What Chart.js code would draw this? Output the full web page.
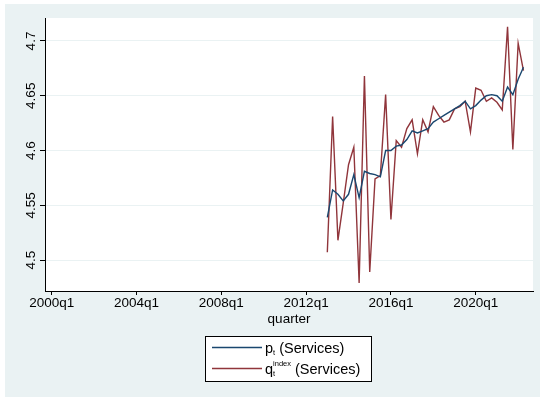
<!DOCTYPE html>
<html>
<head>
<meta charset="utf-8">
<title>Services</title>
<script src="https://cdn.jsdelivr.net/npm/chart.js@4/dist/chart.umd.min.js"></script>
<style>
  html, body { margin: 0; padding: 0; background: #fff; }
  #wrap { width: 540px; height: 400px; }
</style>
</head>
<body>
<div id="wrap"><canvas id="chart" width="540" height="400"></canvas></div>
<script>
// quarterly series, 2013q1 - 2022q2
const quarters = [
    '2013q1', '2013q2', '2013q3', '2013q4', '2014q1', '2014q2', '2014q3', '2014q4',
    '2015q1', '2015q2', '2015q3', '2015q4', '2016q1', '2016q2', '2016q3', '2016q4',
    '2017q1', '2017q2', '2017q3', '2017q4', '2018q1', '2018q2', '2018q3', '2018q4',
    '2019q1', '2019q2', '2019q3', '2019q4', '2020q1', '2020q2', '2020q3', '2020q4',
    '2021q1', '2021q2', '2021q3', '2021q4', '2022q1', '2022q2'
];
const pServices = [
    4.539, 4.564, 4.560, 4.554, 4.560, 4.578, 4.557, 4.581, 4.579, 4.578,
    4.576, 4.600, 4.600, 4.604, 4.605, 4.610, 4.618, 4.616, 4.618, 4.620,
    4.626, 4.629, 4.632, 4.635, 4.638, 4.641, 4.645, 4.638, 4.641, 4.646,
    4.650, 4.651, 4.650, 4.645, 4.658, 4.651, 4.665, 4.676
];
const qIndexServices = [
    4.507, 4.631, 4.518, 4.552, 4.587, 4.603, 4.479, 4.668, 4.489, 4.574,
    4.577, 4.651, 4.537, 4.609, 4.603, 4.620, 4.628, 4.597, 4.628, 4.617,
    4.640, 4.632, 4.626, 4.628, 4.638, 4.640, 4.645, 4.617, 4.657, 4.655,
    4.645, 4.648, 4.644, 4.637, 4.713, 4.601, 4.698, 4.673
];
const xTickLabels = ['2000q1', '2004q1', '2008q1', '2012q1', '2016q1', '2020q1'];
const yTickValues = [4.5, 4.55, 4.6, 4.65, 4.7];

const FONT = '"Liberation Sans", Arial, Helvetica, sans-serif';
const NAVY = '#1a476f';
const MAROON = '#90353b';
const BG = '#eaf2f3';

// quarters counted from 2000q1
function qnum(s) {
    const parts = s.split('q');
    return (Number(parts[0]) - 2000) * 4 + Number(parts[1]) - 1;
}

function toPoints(values) {
    return quarters.map((q, i) => ({ x: qnum(q), y: values[i] }));
}

// graph region + white plot region
const backgroundPlugin = {
    id: 'stataBackground',
    beforeDraw(chart) {
        const { ctx, chartArea } = chart;
        ctx.save();
        ctx.fillStyle = '#fff';
        ctx.fillRect(0, 0, chart.width, chart.height);
        ctx.fillStyle = BG;
        ctx.fillRect(5, 4, chart.width - 5, 393);
        ctx.fillStyle = '#fff';
        ctx.fillRect(chartArea.left, chartArea.top,
            chartArea.right - chartArea.left, chartArea.bottom - chartArea.top);
        ctx.restore();
    }
};

// vertical y tick labels
const yLabelPlugin = {
    id: 'yLabels',
    afterDraw(chart) {
        const { ctx } = chart;
        const y = chart.scales.y;
        ctx.save();
        ctx.font = '13.5px ' + FONT;
        ctx.fillStyle = '#000';
        ctx.textAlign = 'center';
        ctx.textBaseline = 'middle';
        yTickValues.forEach(v => {
            ctx.save();
            ctx.translate(31, y.getPixelForValue(v));
            ctx.rotate(-Math.PI / 2);
            ctx.fillText(String(v), 0, 0);
            ctx.restore();
        });
        ctx.restore();
    }
};

// boxed legend below the axis title
const legendPlugin = {
    id: 'boxLegend',
    afterDraw(chart) {
        const { ctx } = chart;
        const ds = chart.data.datasets;
        const box = { x: 205.5, y: 336.5, w: 166, h: 45 };
        ctx.save();
        ctx.fillStyle = '#fff';
        ctx.fillRect(box.x, box.y, box.w, box.h);
        ctx.strokeStyle = '#000';
        ctx.lineWidth = 1;
        ctx.strokeRect(box.x, box.y, box.w, box.h);

        const keyX0 = 212, keyX1 = 262, textX = 265;
        const big = '14.5px ' + FONT;
        const small = '7.5px ' + FONT;
        ctx.textBaseline = 'alphabetic';
        ctx.fillStyle = '#000';

        // row 1: p_t (Services)
        const y1 = 347.5;
        ctx.strokeStyle = ds[0].borderColor;
        ctx.lineWidth = ds[0].borderWidth;
        ctx.beginPath(); ctx.moveTo(keyX0, y1); ctx.lineTo(keyX1, y1); ctx.stroke();
        let base = y1 + 5;
        ctx.font = big;
        ctx.fillText('p', textX, base);
        let x = textX + ctx.measureText('p').width;
        ctx.font = small;
        ctx.fillText('t', x, base + 2.5);
        x += ctx.measureText('t').width;
        ctx.font = big;
        ctx.fillText(' (Services)', x, base);

        // row 2: q_t^index (Services)
        const y2 = 368.5;
        ctx.strokeStyle = ds[1].borderColor;
        ctx.lineWidth = ds[1].borderWidth;
        ctx.beginPath(); ctx.moveTo(keyX0, y2); ctx.lineTo(keyX1, y2); ctx.stroke();
        base = y2 + 5;
        ctx.font = big;
        ctx.fillText('q', textX, base);
        x = textX + ctx.measureText('q').width;
        ctx.font = small;
        ctx.fillText('t', x, base + 2.5);
        ctx.fillText('index', x, base - 8);
        x += ctx.measureText('index').width;
        ctx.font = big;
        ctx.fillText(' (Services)', x, base);
        ctx.restore();
    }
};

const ctx = document.getElementById('chart').getContext('2d');
new Chart(ctx, {
    type: 'line',
    data: {
        datasets: [{
            label: 'p_t (Services)',
            data: toPoints(pServices),
            borderColor: NAVY,
            borderWidth: 1.4,
            pointRadius: 0,
            tension: 0,
            fill: false
        }, {
            label: 'q_t^index (Services)',
            data: toPoints(qIndexServices),
            borderColor: MAROON,
            borderWidth: 1.4,
            pointRadius: 0,
            tension: 0,
            fill: false
        }]
    },
    options: {
        responsive: false,
        animation: false,
        devicePixelRatio: 1,
        layout: { padding: { left: 0, top: 18, right: 7, bottom: 73 } },
        scales: {
            x: {
                type: 'linear',
                min: -1.26,
                max: 90.8,
                afterBuildTicks: s => { s.ticks = xTickLabels.map(l => ({ value: qnum(l) })); },
                afterFit: s => { s.height = 36; },
                grid: { drawOnChartArea: false, tickLength: 4, tickColor: '#000' },
                border: { color: '#000', width: 1 },
                ticks: {
                    autoSkip: false,
                    maxRotation: 0,
                    padding: 0,
                    color: '#000',
                    font: { family: FONT, size: 13.5 },
                    callback: (v, i) => xTickLabels[i]
                },
                title: {
                    display: true,
                    text: 'quarter',
                    color: '#000',
                    padding: 0,
                    font: { family: FONT, size: 13.5 }
                }
            },
            y: {
                min: 4.4717,
                max: 4.721,
                afterBuildTicks: s => { s.ticks = yTickValues.map(v => ({ value: v })); },
                afterFit: s => { s.width = 45; },
                grid: { color: BG, lineWidth: 1, tickLength: 5, tickColor: '#000' },
                border: { color: '#000', width: 1 },
                ticks: { display: false }
            }
        },
        plugins: {
            legend: { display: false },
            tooltip: { enabled: false }
        }
    },
    plugins: [backgroundPlugin, yLabelPlugin, legendPlugin]
});
</script>
</body>
</html>
